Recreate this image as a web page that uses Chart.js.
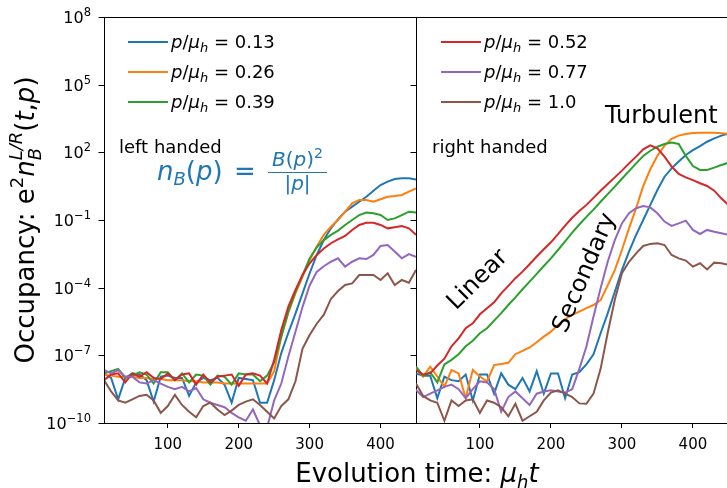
<!DOCTYPE html>
<html>
<head>
<meta charset="utf-8">
<script src="https://cdn.jsdelivr.net/npm/chart.js@4.4.0/dist/chart.umd.min.js"></script>
<style>
body { margin: 0; background: #fff; }
#wrap { position: relative; width: 727px; height: 488px; overflow: hidden; }
canvas { position: absolute; top: 0; }
#left { left: 0; }
#right { left: 400px; }
</style>
</head>
<body>
<div id="wrap">
  <canvas id="left" width="727" height="488"></canvas>
  <canvas id="right" width="327" height="488"></canvas>
</div>
<script>
// evolution time mu_h t
var times = [10,20,30,40,50,60,70,80,90,100,110,120,130,140,150,160,170,180,190,200,
             210,220,230,240,250,260,270,280,290,300,310,320,330,340,350,360,370,380,390,400,
             410,420,430,440,450];

// momentum labels p/mu_h and colours
var pLabels = ['0.13', '0.26', '0.39', '0.52', '0.77', '1.0'];
var colors = ['#1f77b4', '#ff7f0e', '#2ca02c', '#d62728', '#9467bd', '#8c564b'];

// tick labels
var xTicks = [100, 200, 300, 400];
var yTickExps = [-10, -7, -4, -1, 2, 5, 8];

// left handed, log10 of occupancy
var left013 = [-7.8,-8.0,-8.95,-8.0,-7.8,-7.85,-8.1,-9.05,-7.95,-7.9, -8.0,-8.0,-8.8,-8.2,-8.0,-8.1,-8.0,-8.3,-9.1,-8.0,
  -8.05,-8.1,-9.1,-9.1,-8.1,-6.9,-6.0,-5.15,-4.25,-3.36, -2.55,-1.89,-1.37,-0.97,-0.63,-0.41,-0.19,0.03,0.30,0.55, 0.70,0.82,0.85,0.85,0.80];
var left026 = [-7.85,-7.9,-7.95,-7.95,-7.95,-8.0,-8.0,-8.05,-8.05,-8.1, -8.1,-8.1,-8.15,-8.15,-8.2,-8.2,-8.2,-8.25,-8.25,-8.25,
  -8.25,-8.25,-8.25,-8.25,-7.7,-6.17,-5.1,-4.25,-3.51,-2.77, -2.18,-1.66,-1.30,-1.0,-0.63,-0.26,-0.11,-0.11,-0.19,-0.08, 0.03,0.06,0.11,0.26,0.40];
var left039 = [-7.8,-7.7,-7.6,-8.0,-7.9,-7.75,-7.85,-8.25,-7.75,-7.75, -8.1,-7.8,-8.2,-7.85,-7.9,-8.3,-7.9,-7.95,-8.3,-7.8,
  -7.85,-7.85,-8.15,-7.9,-7.3,-6.17,-5.06,-4.18,-3.44,-2.70, -2.21,-1.89,-1.66,-1.47,-1.22,-1.0,-0.78,-0.67,-0.70,-0.78, -1.0,-0.93,-0.78,-0.63,-0.67];
var left052 = [-8.1,-7.85,-7.8,-8.2,-7.8,-7.95,-7.75,-8.0,-8.05,-7.8, -8.1,-7.85,-7.8,-8.3,-7.85,-8.2,-7.95,-7.9,-7.85,-8.35,
  -7.85,-7.8,-7.9,-8.25,-7.2,-5.88,-4.84,-4.1,-3.44,-2.92, -2.55,-2.26,-2.03,-1.86,-1.71,-1.44,-1.22,-1.12,-1.12,-1.22, -1.37,-1.32,-1.27,-1.37,-1.66];
var left077 = [-7.65,-7.8,-7.65,-7.95,-7.95,-8.2,-8.25,-8.1,-8.25,-8.4, -8.5,-8.4,-8.6,-8.45,-8.95,-9.1,-9.2,-9.3,-9.55,-9.75,
  -9.9,-9.4,-10.1,-10.2,-9.0,-8.25,-7.05,-5.95,-4.85,-3.9, -3.3,-3.05,-2.85,-2.70,-3.07,-2.85,-2.70,-2.73,-2.55,-2.15, -2.11,-2.40,-2.70,-2.51,-2.63];
var left100 = [-8.1,-8.6,-9.0,-9.1,-8.95,-8.8,-8.75,-9.0,-9.55,-9.25, -8.75,-9.2,-9.5,-9.75,-9.25,-9.1,-9.4,-9.65,-9.45,-9.2,
  -9.05,-8.95,-9.2,-9.5,-9.8,-9.25,-8.95,-8.15,-6.7,-6.1, -5.6,-5.2,-4.5,-4.15,-3.88,-3.81,-3.44,-3.44,-3.44,-3.66, -3.36,-3.88,-3.66,-3.78,-3.22];

// right handed, log10 of occupancy
var right013 = [-7.8,-7.9,-7.9,-8.9,-7.95,-8.1,-8.15,-7.85,-9.0,-7.85, -7.85,-8.7,-7.8,-8.3,-8.5,-8.0,-8.6,-7.7,-8.7,-7.8,
  -7.8,-8.9,-7.85,-7.75,-7.4,-6.95,-6.02,-5.14,-4.18,-3.22, -2.4,-1.66,-1.0,-0.33,0.33,0.92,1.29,1.59,1.88,2.1, 2.28,2.47,2.62,2.74,2.84];
var right026 = [-7.57,-7.94,-7.5,-7.94,-8.39,-7.65,-7.8,-8.9,-7.65,-7.94, -8.16,-7.43,-7.38,-7.33,-6.95,-6.8,-6.65,-6.42,-6.17,-5.95,
  -5.65,-5.4,-5.21,-5.06,-4.91,-4.77,-4.55,-3.9,-3.22,-2.33, -1.37,-0.48,0.5,1.25,1.85,2.3,2.6,2.74,2.81,2.86, 2.87,2.87,2.87,2.85,2.82];
var right039 = [-7.5,-7.9,-7.75,-8.2,-7.4,-7.2,-6.95,-6.6,-6.35,-6.02, -5.8,-5.46,-5.13,-4.77,-4.43,-4.07,-3.73,-3.39,-3.04,-2.7,
  -2.33,-1.95,-1.56,-1.2,-0.86,-0.54,-0.19,0.15,0.48,0.83, 1.17,1.51,1.84,2.07,2.25,2.37,2.43,2.37,1.84,1.39, 1.22,1.22,1.32,1.44,1.54];
var right052 = [-7.65,-7.85,-7.8,-7.45,-7.15,-6.6,-6.25,-5.8,-5.58,-5.18, -4.91,-4.65,-4.25,-3.92,-3.58,-3.29,-2.96,-2.62,-2.3,-1.99,
  -1.63,-1.25,-0.9,-0.6,-0.33,-0.02,0.3,0.6,0.89,1.19, 1.51,1.81,2.13,2.31,2.18,1.81,1.37,1.04,0.89,0.77, 0.63,0.51,0.30,-0.04,-0.33];
var right077 = [-8.53,-8.85,-8.7,-8.55,-8.4,-8.3,-8.5,-8.9,-8.5,-8.15, -8.2,-8.5,-9.5,-8.85,-8.6,-8.9,-9.2,-8.7,-8.6,-8.55,
  -8.6,-8.65,-8.5,-7.6,-6.61,-5.28,-4.03,-2.85,-1.89,-1.15, -0.7,-0.48,-0.38,-0.44,-0.7,-1.07,-1.26,-1.15,-1.03,-1.44, -1.62,-1.44,-1.52,-1.59,-1.66];
var right100 = [-8.25,-8.8,-9.0,-9.1,-9.9,-9.0,-9.25,-9.0,-8.95,-9.55, -9.0,-9.1,-9.3,-9.7,-9.15,-9.9,-9.7,-9.5,-9.0,-8.65,
  -8.55,-8.7,-8.85,-9.13,-9.15,-8.7,-7.6,-6.0,-4.54,-3.36, -2.85,-2.48,-2.15,-2.06,-2.03,-2.11,-2.55,-2.7,-2.8,-3.07, -2.92,-3.19,-2.89,-2.92,-2.99];

var FAM = '"DejaVu Sans"';
function F(size, italic) { return (italic ? 'italic ' : '') + size + 'px ' + FAM; }

// draws a row of text pieces with their own font and vertical shift
function rich(ctx, parts, x, y, align) {
  var w = 0;
  parts.forEach(function (p) {
    ctx.font = p.f;
    p.w = p.adv === 0 ? 0 : ctx.measureText(p.t).width;
    w += p.w;
  });
  var cx = x;
  if (align === 'center') cx = x - w / 2;
  if (align === 'right') cx = x - w;
  ctx.textAlign = 'left';
  ctx.textBaseline = 'alphabetic';
  parts.forEach(function (p) {
    ctx.font = p.f;
    ctx.fillText(p.t, cx, y + (p.dy || 0));
    cx += p.w;
  });
}

function legendParts(v) {
  return [
    {t: 'p', f: F(18, true)}, {t: '/', f: F(18)}, {t: '\u03BC', f: F(18, true)},
    {t: 'h', f: F(13, true), dy: 4}, {t: ' = ' + v, f: F(18)}
  ];
}

function drawLegend(ctx, idx, x0, y0) {
  idx.forEach(function (i, k) {
    var y = y0 + k * 30;
    ctx.strokeStyle = colors[i];
    ctx.lineWidth = 2.2;
    ctx.beginPath();
    ctx.moveTo(x0, y);
    ctx.lineTo(x0 + 40, y);
    ctx.stroke();
    ctx.fillStyle = '#000';
    rich(ctx, legendParts(pLabels[i]), x0 + 43, y + 6);
  });
}

// short outward tick marks on the left edge of a chart area, at the log scale's decades
function yTickMarks(chart, len) {
  var ctx = chart.ctx;
  var ys = chart.scales.y;
  var x = Math.round(chart.chartArea.left) + 0.5;
  ctx.strokeStyle = '#000';
  ctx.lineWidth = 1;
  ctx.beginPath();
  yTickExps.forEach(function (e) {
    var py = Math.round(ys.getPixelForValue(Math.pow(10, e))) + 0.5;
    ctx.moveTo(x - len, py);
    ctx.lineTo(x, py);
  });
  ctx.stroke();
}

function buildSets(series) {
  return series.map(function (s, i) {
    return {
      label: 'p/\u03BCh = ' + pLabels[i],
      data: times.map(function (t, k) { return {x: t, y: Math.pow(10, s[k])}; }),
      borderColor: colors[i],
      backgroundColor: colors[i],
      borderWidth: 2,
      pointRadius: 0,
      tension: 0,
      fill: false,
      clip: 0,
      order: 5 - i
    };
  });
}

function scalesFor(xMax, yWidth) {
  return {
    x: {
      type: 'linear', min: 10, max: xMax,
      afterBuildTicks: function (s) { s.ticks = xTicks.map(function (v) { return {value: v}; }); },
      afterFit: function (s) { s.height = 65; },
      border: {display: false},
      grid: {drawOnChartArea: false, drawTicks: true, tickLength: 5, color: '#000', lineWidth: 1},
      ticks: {color: '#000', font: {family: 'DejaVu Sans', size: 15}, padding: 8, maxRotation: 0}
    },
    y: {
      type: 'logarithmic', min: 1e-10, max: 1e8,
      afterBuildTicks: function (s) { s.ticks = yTickExps.map(function (e) { return {value: Math.pow(10, e)}; }); },
      afterFit: function (s) { s.width = yWidth; },
      border: {display: false},
      grid: {display: false},
      ticks: {display: false}
    }
  };
}

var leftDecor = {
  id: 'leftDecor',
  afterDraw: function (chart) {
    var ctx = chart.ctx;
    var a = chart.chartArea;
    ctx.save();
    ctx.strokeStyle = '#000';
    ctx.lineWidth = 1;
    ctx.strokeRect(Math.round(a.left) + 0.5, Math.round(a.top) + 0.5,
                   Math.round(a.right - a.left), Math.round(a.bottom - a.top));
    yTickMarks(chart, 6);

    // y tick labels 10^n placed through the log scale
    var ys = chart.scales.y;
    ctx.fillStyle = '#000';
    yTickExps.forEach(function (e) {
      var py = ys.getPixelForValue(Math.pow(10, e));
      var ex = String(e).replace('-', '\u2212');
      rich(ctx, [{t: '10', f: F(16)}, {t: ex, f: F(11.5), dy: -7}], 91, py + 6, 'right');
    });

    drawLegend(ctx, [0, 1, 2], 128, 42);
    ctx.fillStyle = '#000';
    ctx.font = F(18);
    ctx.textAlign = 'left';
    ctx.fillText('left handed', 119, 153);

    // n_B(p) = B(p)^2 / |p|
    ctx.fillStyle = '#1f77b4';
    ctx.strokeStyle = '#1f77b4';
    rich(ctx, [
      {t: 'n', f: F(26, true)}, {t: 'B', f: F(18, true), dy: 5}, {t: '(', f: F(26)},
      {t: 'p', f: F(26, true)}, {t: ')', f: F(26)}
    ], 157, 180);
    rich(ctx, [{t: '=', f: F(26)}], 234, 180);
    rich(ctx, [
      {t: 'B', f: F(20, true)}, {t: '(', f: F(20)}, {t: 'p', f: F(20, true)}, {t: ')', f: F(20)},
      {t: '2', f: F(14), dy: -8}
    ], 297.5, 166, 'center');
    ctx.lineWidth = 1.2;
    ctx.beginPath();
    ctx.moveTo(268, 172.5);
    ctx.lineTo(327, 172.5);
    ctx.stroke();
    rich(ctx, [{t: '|', f: F(20)}, {t: 'p', f: F(20, true)}, {t: '|', f: F(20)}], 297.5, 190, 'center');

    // axis titles
    ctx.fillStyle = '#000';
    rich(ctx, [
      {t: 'Evolution time: ', f: F(26)}, {t: '\u03BC', f: F(26, true)},
      {t: 'h', f: F(18, true), dy: 6}, {t: 't', f: F(26, true)}
    ], 417, 482, 'center');

    ctx.translate(34, 220);
    ctx.rotate(-Math.PI / 2);
    rich(ctx, [
      {t: 'Occupancy: e', f: F(26)}, {t: '2', f: F(18), dy: -11}, {t: 'n', f: F(26, true)},
      {t: 'B', f: F(18, true), dy: 7, adv: 0}, {t: 'L/R', f: F(18, true), dy: -12},
      {t: '(', f: F(26)}, {t: 't', f: F(26, true)}, {t: ',', f: F(26)}, {t: 'p', f: F(26, true)}, {t: ')', f: F(26)}
    ], 0, 0, 'center');
    ctx.restore();
  }
};

var OFF = 400; // left offset of the right canvas
var rightDecor = {
  id: 'rightDecor',
  afterDraw: function (chart) {
    var ctx = chart.ctx;
    var a = chart.chartArea;
    ctx.save();
    ctx.strokeStyle = '#000';
    ctx.lineWidth = 1;
    ctx.beginPath();
    ctx.moveTo(a.left, Math.round(a.top) + 0.5);
    ctx.lineTo(a.right, Math.round(a.top) + 0.5);
    ctx.moveTo(a.left, Math.round(a.bottom) + 0.5);
    ctx.lineTo(a.right, Math.round(a.bottom) + 0.5);
    ctx.stroke();
    yTickMarks(chart, 6);

    drawLegend(ctx, [3, 4, 5], 441 - OFF, 42);
    ctx.fillStyle = '#000';
    ctx.textAlign = 'left';
    ctx.textBaseline = 'alphabetic';
    ctx.font = F(18);
    ctx.fillText('right handed', 432 - OFF, 153);
    ctx.font = F(24);
    ctx.fillText('Turbulent', 605 - OFF, 123);

    ctx.textAlign = 'center';
    ctx.textBaseline = 'middle';
    ctx.save();
    ctx.translate(478 - OFF, 280);
    ctx.rotate(-Math.PI / 4);
    ctx.fillText('Linear', 0, 0);
    ctx.restore();
    ctx.save();
    ctx.translate(585 - OFF, 273);
    ctx.rotate(-67 * Math.PI / 180);
    ctx.fillText('Secondary', 0, 0);
    ctx.restore();
    ctx.restore();
  }
};

var leftSeries = [left013, left026, left039, left052, left077, left100];
var rightSeries = [right013, right026, right039, right052, right077, right100];

var leftChart = new Chart(document.getElementById('left').getContext('2d'), {
  type: 'line',
  data: {datasets: buildSets(leftSeries)},
  options: {
    responsive: false, animation: false, devicePixelRatio: 1,
    layout: {padding: {top: 17, right: 311, left: 0, bottom: 0}},
    plugins: {legend: {display: false}, tooltip: {enabled: false}},
    scales: scalesFor(450, 104)
  },
  plugins: [leftDecor]
});

var rightChart = new Chart(document.getElementById('right').getContext('2d'), {
  type: 'line',
  data: {datasets: buildSets(rightSeries)},
  options: {
    responsive: false, animation: false, devicePixelRatio: 1,
    layout: {padding: {top: 17, right: 0, left: 0, bottom: 0}},
    plugins: {legend: {display: false}, tooltip: {enabled: false}},
    scales: scalesFor(448, 16)
  },
  plugins: [rightDecor]
});
</script>
</body>
</html>
